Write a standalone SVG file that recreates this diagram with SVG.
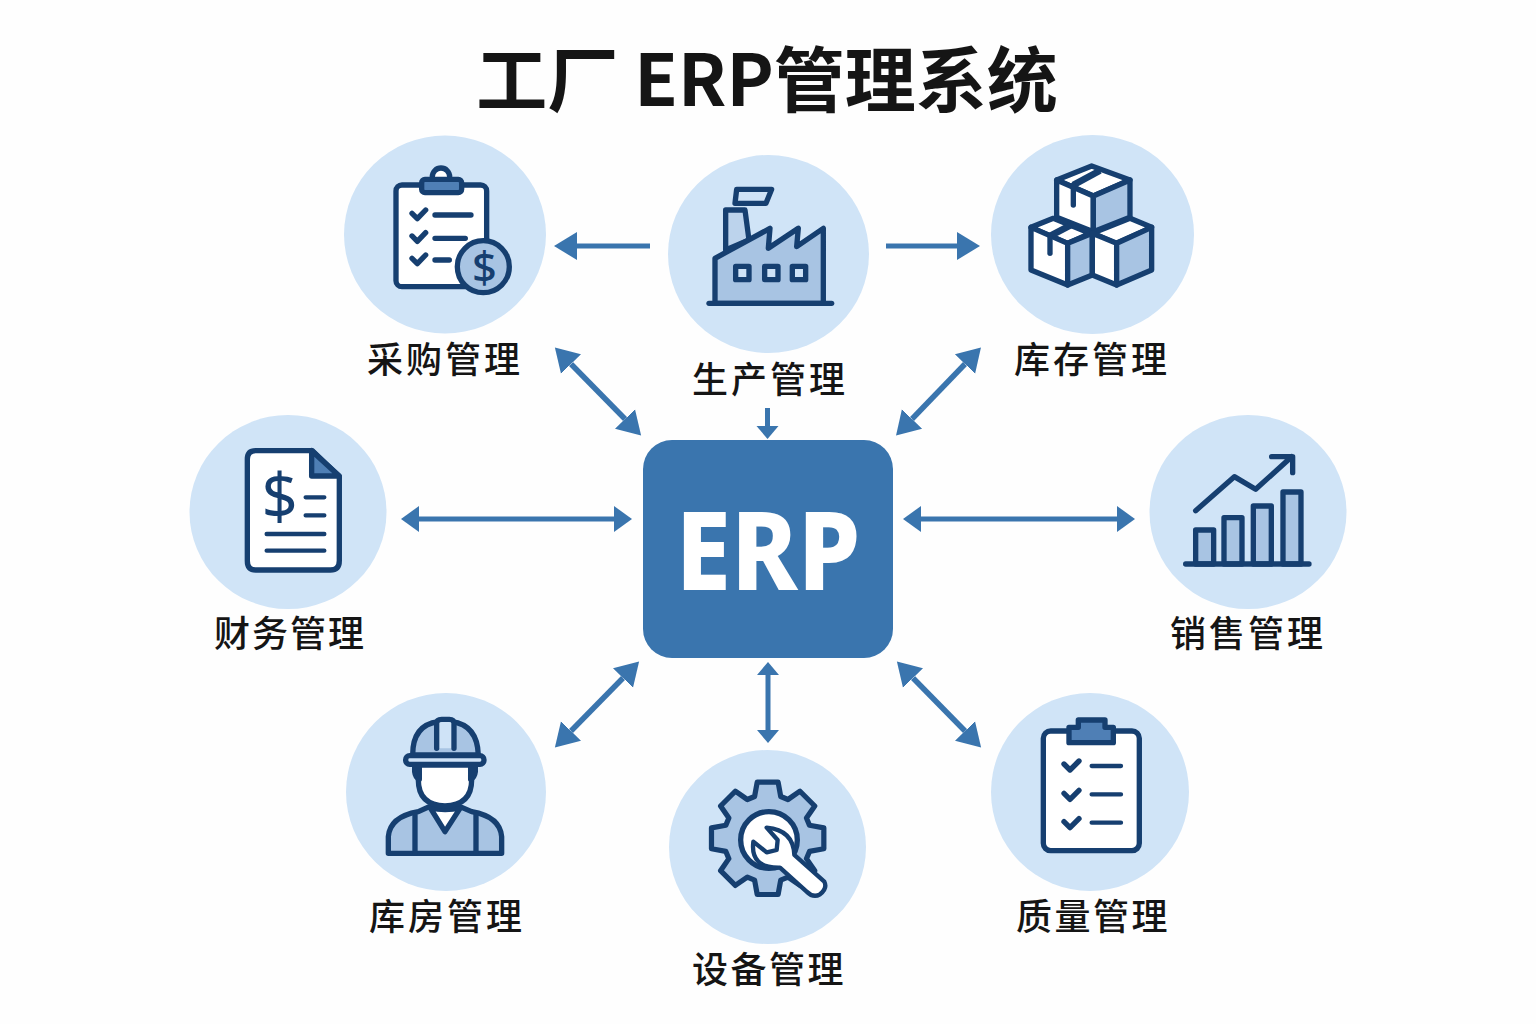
<svg xmlns="http://www.w3.org/2000/svg" width="1536" height="1024" viewBox="0 0 1536 1024">
<style>
.bg{fill:#d0e4f7}
.i{stroke:#163f70;stroke-width:16;stroke-linejoin:round;stroke-linecap:round;fill:none}
.w{fill:#fff}.m{fill:#a8c4e3}.l{fill:#cfe3f7}.s{fill:#4f7fb5}
.t{stroke-width:13}
.strap{stroke-width:20;stroke-linecap:butt}
.lbl{font-family:"Noto Sans CJK SC","Noto Sans",sans-serif;font-size:36px;font-weight:500;fill:#151515;text-anchor:middle;letter-spacing:3px}
.title{font-family:"Noto Sans CJK SC","Noto Sans",sans-serif;font-size:71px;font-weight:700;fill:#151515;text-anchor:middle}
.c line{stroke:#3a75ae;stroke-width:5;fill:none}
.c line.d{stroke-width:5.5}
.d{marker-start:url(#hd);marker-end:url(#hd)}
.e{marker-end:url(#hd)}
.h{marker-start:url(#hh);marker-end:url(#hh)}
.v{marker-start:url(#hv);marker-end:url(#hv)}
.ve{marker-end:url(#hv)}
.dollar{font-family:"Noto Sans","Liberation Sans",sans-serif;fill:#163f70;text-anchor:middle;stroke:none}
</style>
<defs>
<marker id="hd" markerUnits="userSpaceOnUse" orient="auto-start-reverse" markerWidth="24" markerHeight="30" viewBox="0 -15 24 30" refX="0" refY="0"><path d="M0,-14L23,0L0,14Z" fill="#3a75ae"/></marker>
<marker id="hh" markerUnits="userSpaceOnUse" orient="auto-start-reverse" markerWidth="19" markerHeight="28" viewBox="0 -14 19 28" refX="0" refY="0"><path d="M0,-13L18,0L0,13Z" fill="#3a75ae"/></marker>
<marker id="hv" markerUnits="userSpaceOnUse" orient="auto-start-reverse" markerWidth="14" markerHeight="24" viewBox="0 -12 14 24" refX="0" refY="0"><path d="M0,-11L13,0L0,11Z" fill="#3a75ae"/></marker>
</defs>
<rect width="1536" height="1024" fill="#fefefe"/>
<text class="title" x="767" y="106">工厂 ERP管理系统</text>

<g id="connectors" class="c">
<line class="e" x1="650" y1="246" x2="577" y2="246"/>
<line class="e" x1="886" y1="246" x2="957" y2="246"/>
<line class="d" x1="571" y1="364" x2="625" y2="419"/>
<line class="d" x1="965" y1="364" x2="912" y2="419"/>
<line class="ve" x1="767.5" y1="408" x2="767.5" y2="426"/>
<line class="h" x1="419" y1="519" x2="614" y2="519"/>
<line class="h" x1="921" y1="519" x2="1117" y2="519"/>
<line class="d" x1="623" y1="678" x2="571" y2="731"/>
<line class="v" x1="768" y1="675" x2="768" y2="730"/>
<line class="d" x1="913" y1="678" x2="965" y2="731"/>
</g>

<g id="erp">
<rect x="643" y="440" width="250" height="218" rx="29" fill="#3a75ae"/>
<text x="768" y="590" font-family="Noto Sans,sans-serif" font-weight="800" font-size="109" fill="#fff" text-anchor="middle" textLength="185" lengthAdjust="spacingAndGlyphs">ERP</text>
</g>

<g id="procurement">
<ellipse class="bg" cx="445" cy="234.5" rx="101" ry="99"/>
<g transform="translate(340 130) scale(.3333)" class="i">
<rect class="w" x="168" y="165" width="272" height="305" rx="18"/>
<circle class="w" cx="303" cy="140" r="26"/>
<rect class="s" x="245" y="148" width="120" height="40" rx="10"/>
<path d="M216,250L232,266L257,240M216,318L232,334L257,308M216,385L232,401L257,375"/>
<path d="M285,255H393M285,325H376M285,390H328"/>
<circle class="m" cx="430" cy="410" r="78"/>
<text class="dollar" x="433" y="458" font-size="130" font-weight="500">$</text>
</g>
<text class="lbl" x="445" y="373">采购管理</text>
</g>

<g id="production">
<ellipse class="bg" cx="768.5" cy="254" rx="100.5" ry="99"/>
<g transform="translate(665 150) scale(.3333)" class="i">
<path class="l" d="M215,118H320L303,160H210Z"/>
<path style="fill:#bcd3ec" d="M182,300V180H240L252,270Z"/>
<path class="m" d="M150,460V325L315,235L310,295L400,235L395,290L475,235V460Z"/>
<path d="M132,460H500"/>
<rect class="l" x="212" y="349" width="40" height="40"/>
<rect class="l" x="299" y="349" width="40" height="40"/>
<rect class="l" x="382" y="349" width="40" height="40"/>
</g>
<text class="lbl" x="770" y="393">生产管理</text>
</g>

<g id="inventory">
<ellipse class="bg" cx="1092.5" cy="234.5" rx="101.5" ry="99.5"/>
<g transform="translate(985 130) scale(.3333)" class="i">
<path class="w" d="M320,108L435,150L325,198L215,150Z"/>
<path class="w" d="M215,150V262L325,305V198Z"/>
<path class="m" d="M325,198L435,150V262L325,305Z"/>
<path class="strap" d="M345,122L265,165"/>
<path d="M265,165V225"/>
<path class="w" d="M205,265L315,310L248,340L138,292Z"/>
<path class="w" d="M138,292V420L248,465V340Z"/>
<path class="m" d="M248,340L322,310V435L248,465Z"/>
<path class="strap" d="M258,285L195,318"/>
<path d="M195,318V370"/>
<path class="w" d="M435,265L500,292L392,340L322,310Z"/>
<path class="w" d="M322,310V435L395,465V340Z"/>
<path class="m" d="M395,340L500,292V420L395,465Z"/>
</g>
<text class="lbl" x="1092" y="373">库存管理</text>
</g>

<g id="finance">
<ellipse class="bg" cx="288" cy="512" rx="98.5" ry="97"/>
<g transform="translate(185 410) scale(.3333)" class="i">
<path class="w" d="M212,122H382L463,200V452Q463,480 436,480H212Q187,480 187,452V148Q187,122 212,122Z"/>
<path class="s" d="M380,122V198H463Z"/>
<path class="t" d="M362,262H418M362,316H418M245,372H418M245,422H418"/>
<text class="dollar" x="284" y="326" font-size="190" font-weight="400">$</text>
</g>
<text class="lbl" x="290" y="647" style="letter-spacing:2px">财务管理</text>
</g>

<g id="sales">
<ellipse class="bg" cx="1248" cy="512" rx="98.5" ry="97"/>
<g transform="translate(1145 410) scale(.3333)" class="i">
<rect class="m" x="152" y="360" width="54" height="102"/>
<rect class="m" x="237" y="323" width="54" height="139"/>
<rect class="m" x="325" y="288" width="54" height="174"/>
<rect class="m" x="414" y="246" width="54" height="216"/>
<path d="M122,462H492"/>
<path d="M152,302L268,200L332,238L440,140M380,140H443V188"/>
</g>
<text class="lbl" x="1248" y="647">销售管理</text>
</g>

<g id="warehouse">
<ellipse class="bg" cx="446" cy="792" rx="100" ry="99"/>
<g transform="translate(340 690) scale(.3333)" class="i">
<path class="m" d="M145,490V440Q150,380 235,365L268,350Q315,365 360,350L395,365Q480,380 485,440V490Z"/>
<path class="w" d="M270,352L315,425L362,352Q315,365 270,352Z"/>
<path d="M225,375V490M408,375V490"/>
<path class="w" d="M235,225H395V270Q395,345 315,348Q235,345 235,270Z"/>
<path fill="#163f70" d="M224,225H238V268Q226,262 224,245ZM406,225H392V268Q404,262 406,245Z"/>
<path class="m" d="M218,195Q218,105 295,95H335Q412,105 415,195Z"/>
<path class="l" d="M290,175V100Q290,88 305,88H328Q342,88 342,100V175"/>
<rect class="l" x="197" y="197" width="235" height="26" rx="12"/>
</g>
<text class="lbl" x="447" y="930">库房管理</text>
</g>

<g id="equipment">
<ellipse class="bg" cx="767.5" cy="847" rx="98.5" ry="97"/>
<g transform="translate(665 745) scale(.3333)" class="i">
<path class="m" transform="translate(308 280) scale(.98)" d="M128,-40L172,-32V32L128,40L118.8,62.2L144.2,99L99,144.2L62.2,118.8L40,128L32,172H-32L-40,128L-62.2,118.8L-99,144.2L-144.2,99L-118.8,62.2L-128,40L-172,32V-32L-128,-40L-118.8,-62.2L-144.2,-99L-99,-144.2L-62.2,-118.8L-40,-128L-32,-172H32L40,-128L62.2,-118.8L99,-144.2L144.2,-99L118.8,-62.2Z"/>
<circle class="w" cx="312" cy="285" r="85"/>
<path class="w t" d="M305,248Q385,255 388,330L478,410Q488,430 465,448Q445,460 425,440L345,368Q255,370 265,290L305,322L335,315L338,285Z"/>
</g>
<text class="lbl" x="769" y="983" style="letter-spacing:2.5px">设备管理</text>
</g>

<g id="quality">
<ellipse class="bg" cx="1090" cy="792" rx="99" ry="99"/>
<g transform="translate(985 690) scale(.3333)" class="i">
<rect class="w" x="175" y="123" width="288" height="359" rx="22"/>
<path class="s" d="M280,112V90H360V112H385V158H252V112Z"/>
<path d="M237,222L255,240L282,213M237,310L255,328L282,301M237,395L255,413L282,386"/>
<path class="t" d="M320,228H408M320,313H408M320,398H408"/>
</g>
<text class="lbl" x="1093" y="930" style="letter-spacing:2.5px">质量管理</text>
</g>
</svg>
